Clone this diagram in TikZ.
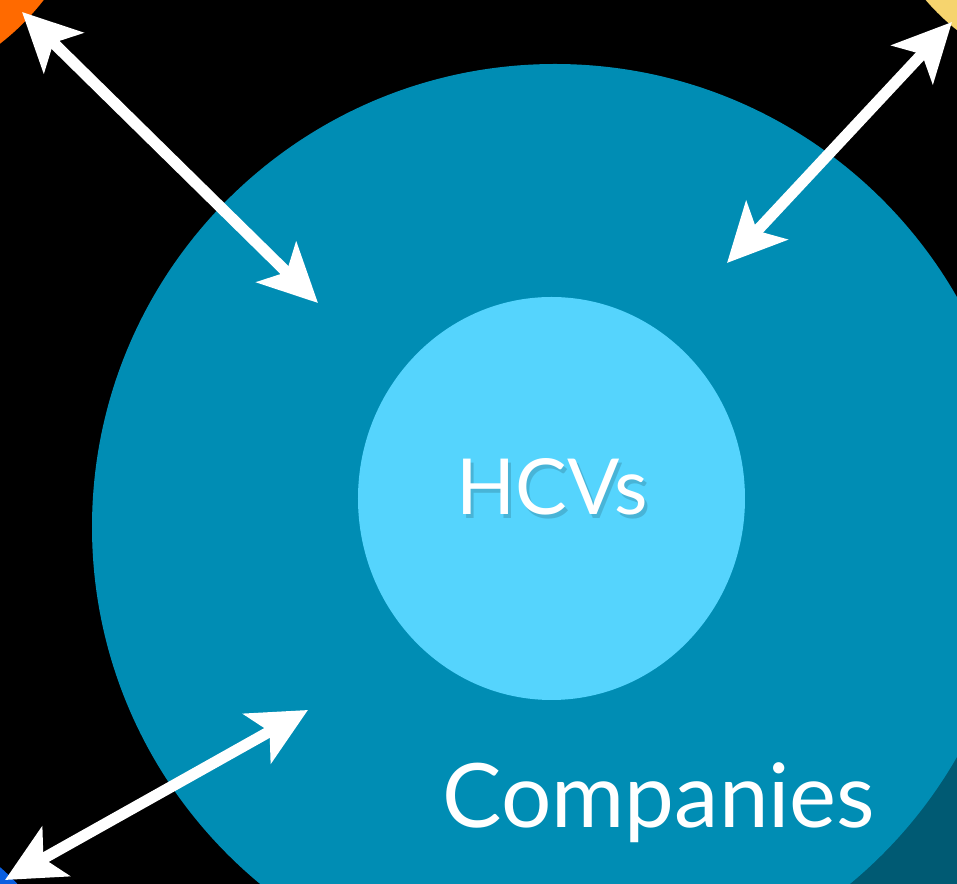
\documentclass[tikz,border=0pt]{standalone}
\usepackage{fontspec}
\setmainfont{Lato}
\usetikzlibrary{arrows.meta,shapes.geometric}

\definecolor{companyteal}{HTML}{008DB4}
\definecolor{hcvblue}{HTML}{55D4FD}
\definecolor{deepteal}{HTML}{005A73}
\definecolor{sunorange}{HTML}{FF6A00}
\definecolor{sunyellow}{HTML}{F6D46E}
\definecolor{skyblue}{HTML}{0A5FE0}

\begin{document}
\begin{tikzpicture}[
    ring/.style={circle, draw=none, inner sep=0pt},
    link/.style={white, line width=3.2pt,
                 {Stealth[length=5.8mm,width=5.6mm,inset=1.4mm]}-{Stealth[length=5.8mm,width=5.6mm,inset=1.4mm]}},
    label/.style={white, inner sep=0pt, anchor=base}
]

% frame
\fill[black] (0,0) rectangle (9.57,-8.84);
\useasboundingbox (0,0) rectangle (9.57,-8.84);
\clip (0,0) rectangle (9.57,-8.84);

% --- OUTER CIRCLES ---
\node[ring, fill=deepteal,  minimum size=8cm]    (deep)   at (11.5,-10.5) {};
\node[ring, fill=sunorange, minimum size=4.9cm]  (orange) at (-1.5,1.5) {};
\node[ring, fill=sunyellow, minimum size=4.6cm]  (yellow) at (11.0,1.5) {};
\node[ring, fill=skyblue,   minimum size=4.86cm] (blue)   at (-1.6,-10.5) {};

% --- COMPANIES ---
\node[ring, fill=companyteal, minimum size=9.26cm] (companies) at (5.55,-5.27) {};
\node[label, font=\fontsize{25.3}{30}\selectfont] (complabel) at (6.59,-8.28) {Companies};

% --- HCVs ---
\node[ellipse, fill=hcvblue, draw=none, inner sep=0pt,
      minimum width=3.87cm, minimum height=4.03cm] (hcvs) at (5.515,-4.985) {};
\node[label, black, opacity=0.15, font=\fontsize{22}{26}\selectfont]
  (hcvshadow) at (5.55,-5.19) {HCVs};
\node[label, font=\fontsize{22}{26}\selectfont] (hcvlabel) at (5.52,-5.15) {HCVs};

% --- ARROW ENDS ---
\coordinate (orangeend) at (0.22,-0.12);
\coordinate (orangein)  at (3.18,-3.03);
\coordinate (yellowend) at (9.52,-0.22);
\coordinate (yellowin)  at (7.27,-2.63);
\coordinate (blueend)   at (0.05,-8.80);
\coordinate (bluein)    at (3.08,-7.10);

% --- LINKS ---
\draw[link] (orangeend) -- (orangein);
\draw[link] (yellowend) -- (yellowin);
\draw[link] (blueend)   -- (bluein);

\end{tikzpicture}
\end{document}
